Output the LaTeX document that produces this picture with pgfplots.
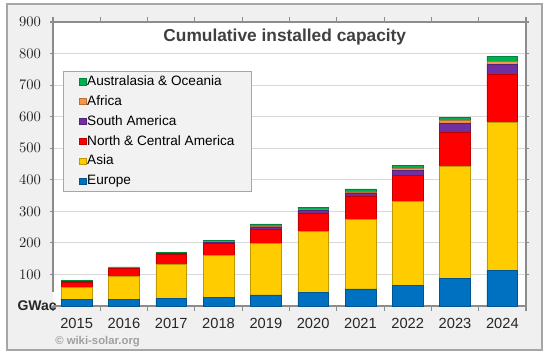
\documentclass[border=0pt]{standalone}
\usepackage{pgfplots}
\pgfplotsset{compat=1.18}
\usepackage{pgfplotstable}
\usepackage{fontspec}
\setmainfont{Liberation Sans}
\definecolor{eur}{HTML}{0070C0}
\definecolor{asia}{HTML}{FFCC00}
\definecolor{nca}{HTML}{FF0000}
\definecolor{sam}{HTML}{7030A0}
\definecolor{afr}{HTML}{F79646}
\definecolor{aus}{HTML}{00B050}
\definecolor{bgframe}{HTML}{F0F0F0}
\definecolor{framegray}{HTML}{A6A6A6}
\definecolor{gridgray}{HTML}{D9D9D9}
\definecolor{axisgray}{HTML}{8C8C8C}
\definecolor{tickgray}{HTML}{262626}
\definecolor{titlegray}{HTML}{404040}
\definecolor{wmgray}{HTML}{A0A0A0}
\definecolor{legendbg}{HTML}{F2F2F2}
\definecolor{legendborder}{HTML}{A6A6A6}

\pgfplotstableread{
x Eur Asia NCA SA Afr Aus
0 21 39 16 1 1 3
1 22 71 27 1 1 2
2 24 108 33 1 1 3
3 28 133 37 4 2 5
4 35 163 46 7 3 6
5 42 195 58 7 5 6
6 54 221 74 8 5 9
7 66 266 82 16 6 10
8 88 355 109 28 9 9
9 114 469 150 33 8 18
}\data

\pgfplotsset{sqlegend/.style={legend image code/.code={\fill[##1] (0pt,-2.3pt) rectangle (4.6pt,2.3pt);}}}

\begin{document}
\begin{tikzpicture}
\path[use as bounding box] (0pt,0pt) rectangle (412.5pt,-269.25pt);
\draw[fill=bgframe, draw=framegray, line width=1.2pt] (5.25pt,-3pt) rectangle (406.5pt,-262.5pt);
\begin{axis}[
  at={(39.75pt,-229.5pt)}, anchor=south west,
  scale only axis, width=354.75pt, height=213pt,
  ybar stacked, bar width=0.65,
  xmin=-0.5, xmax=9.5, ymin=0, ymax=900,
  xtick={0,...,9},
  xticklabels={2015,2016,2017,2018,2019,2020,2021,2022,2023,2024},
  minor xtick={-0.5,0.5,...,9.5},
  ytick={100,200,...,900},
  ymajorgrids, grid style={draw=gridgray, line width=0.8pt},
  tick align=outside,
  major tick length=2.5pt, minor tick length=3.5pt,
  major x tick style={draw=none},
  minor x tick style={draw=axisgray, line width=0.8pt},
  y tick style={draw=axisgray, line width=0.8pt},
  axis line style={draw=none},
  axis background/.style={fill=white},
  tick label style={font=\fontsize{11}{13}\selectfont, text=tickgray},
  yticklabel style={xshift=-3pt},
  xticklabel style={yshift=-3.5pt},
  clip=false,
  sqlegend,
  reverse legend,
  legend cell align=left,
  legend style={at={(0.021,0.827)}, anchor=north west, fill=legendbg,
    draw=legendborder, line width=0.8pt, font=\fontsize{10.2}{12}\selectfont,
    inner xsep=12pt, inner ysep=2pt, row sep=3.8pt,
    nodes={inner sep=0.8pt, text height=7.5pt, text depth=2pt}},
]
\addplot[fill=eur, draw=eur!75!black, line width=0.4pt, sqlegend] table[x=x,y=Eur]{\data};
\addplot[fill=asia, draw=asia!75!black, line width=0.4pt, sqlegend] table[x=x,y=Asia]{\data};
\addplot[fill=nca, draw=nca!75!black, line width=0.4pt, sqlegend] table[x=x,y=NCA]{\data};
\addplot[fill=sam, draw=sam!75!black, line width=0.4pt, sqlegend] table[x=x,y=SA]{\data};
\addplot[fill=afr, draw=afr!75!black, line width=0.4pt, sqlegend] table[x=x,y=Afr]{\data};
\addplot[fill=aus, draw=aus!75!black, line width=0.4pt, sqlegend] table[x=x,y=Aus]{\data};
\legend{Europe,Asia,North \& Central America,South America,Africa,Australasia \& Oceania}
\draw[axisgray, line width=0.8pt] (rel axis cs:0,0.05) -- (rel axis cs:0,1) -- (rel axis cs:1,1) -- (rel axis cs:1,0);
\draw[axisgray, line width=0.8pt] (rel axis cs:0,0) -- (rel axis cs:1,0);
\node[anchor=east, inner sep=0pt, font=\fontsize{10.5}{12}\selectfont\bfseries, text=tickgray] at ([xshift=3pt]rel axis cs:0,0) {GWac};
\node[font=\fontsize{13}{15}\selectfont\bfseries, text=titlegray] at (rel axis cs:0.49,0.947) {Cumulative installed capacity};
\end{axis}
\node[anchor=west, inner sep=0pt, font=\fontsize{8.5}{10}\selectfont\bfseries, text=wmgray] at (41.25pt,-256.5pt) {\textcopyright{} wiki-solar.org};
\end{tikzpicture}
\end{document}
